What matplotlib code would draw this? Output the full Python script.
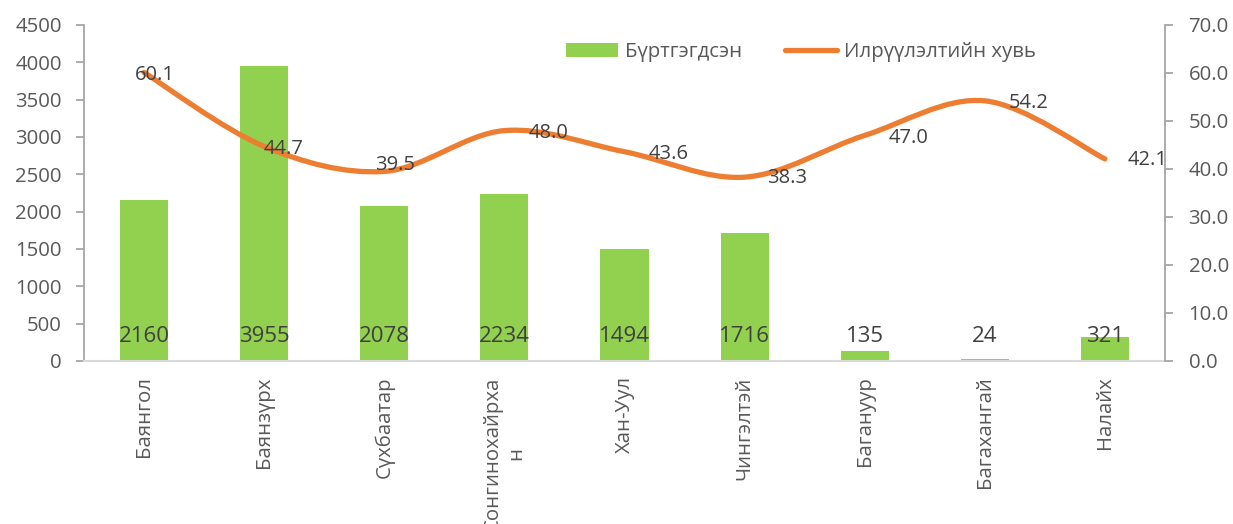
import matplotlib
matplotlib.use("Agg")
import matplotlib.pyplot as plt
from matplotlib import font_manager
from matplotlib.path import Path
from matplotlib.patches import PathPatch, Patch
from matplotlib.lines import Line2D
import numpy as np

# data
districts = ["Баянгол", "Баянзүрх", "Сүхбаатар", "Сонгинохайрха\nн", "Хан-Уул",
             "Чингэлтэй", "Багануур", "Багахангай", "Налайх"]
registered = [2160, 3955, 2078, 2234, 1494, 1716, 135, 24, 321]
detect_rate = [60.1, 44.7, 39.5, 48.0, 43.6, 38.3, 47.0, 54.2, 42.1]

# label nudges (pixels, right/up) for the rate labels
rate_offsets = [(11, -2), (19, -3), (11, 6), (44, -2), (44, -2),
                (43, -1), (44, -3), (44, -2), (43, -1)]

GREEN = "#92D050"
ORANGE = "#ED7D31"
TICK_C = "#595959"
LABEL_C = "#404040"
FS = 14.7

installed = {f.name for f in font_manager.fontManager.ttflist}
narrow = "Liberation Sans Narrow" if "Liberation Sans Narrow" in installed else "Open Sans"
plt.rcParams['font.family'] = ['Open Sans', 'DejaVu Sans']

fig = plt.figure(figsize=(12.33, 5.24), dpi=100)
ax = fig.add_axes([84 / 1233, 1 - 361 / 524, (1165 - 84) / 1233, (361 - 25) / 524])
ax2 = ax.twinx()

x = np.arange(len(districts))
ax.bar(x, registered, width=0.4, color=GREEN, zorder=2)
ax.set_xlim(-0.5, len(districts) - 0.5)
ax.set_ylim(0, 4500)
ax.set_yticks(np.arange(0, 4501, 500))
ax.set_xticks(x)
ax.set_xticklabels(districts, rotation=90, va='top', ha='center',
                   multialignment='center', fontsize=FS, color=TICK_C)
ax.tick_params(axis='x', length=0, pad=11)
ax.tick_params(axis='y', direction='out', length=6, width=1.3, color="#A6A6A6",
               labelsize=FS, labelcolor=TICK_C, pad=10)

for i, v in enumerate(registered):
    ax.annotate(str(v), (i, 0), xytext=(0, 25), textcoords='offset pixels',
                ha='center', va='center', fontsize=16, color=LABEL_C,
                family=[narrow, 'DejaVu Sans'], zorder=4)

# smoothed line through the points (Catmull-Rom style bezier)
pts = np.column_stack([x, detect_rate]).astype(float)
verts = [tuple(pts[0])]
codes = [Path.MOVETO]
n = len(pts)
for i in range(n - 1):
    p0 = pts[i - 1] if i > 0 else pts[i]
    p1 = pts[i]
    p2 = pts[i + 1]
    p3 = pts[i + 2] if i + 2 < n else pts[i + 1]
    c1 = p1 + (p2 - p0) / 6
    c2 = p2 - (p3 - p1) / 6
    verts += [tuple(c1), tuple(c2), tuple(p2)]
    codes += [Path.CURVE4] * 3
ax2.add_patch(PathPatch(Path(verts, codes), facecolor='none', edgecolor=ORANGE,
                        lw=3.8, capstyle='round', zorder=3))
ax2.set_ylim(0, 70)
ax2.set_yticks(np.arange(0, 71, 10))
ax2.set_yticklabels([f"{t:.1f}" for t in np.arange(0, 71, 10)])
ax2.tick_params(axis='y', direction='out', length=6, width=1.3, color="#A6A6A6",
                labelsize=FS, labelcolor=TICK_C, pad=11)

for i, v in enumerate(detect_rate):
    dx, dy = rate_offsets[i]
    ax2.annotate(f"{v:.1f}", (i, v), xytext=(dx, dy), textcoords='offset pixels',
                 ha='center', va='center', fontsize=14.5, color=LABEL_C, zorder=5)

for a in (ax, ax2):
    a.spines['top'].set_visible(False)
    a.spines['bottom'].set_color("#D9D9D9")
    a.spines['bottom'].set_linewidth(1.5)
    a.spines['left'].set_color("#A6A6A6")
    a.spines['left'].set_linewidth(1.3)
    a.spines['right'].set_color("#A6A6A6")
    a.spines['right'].set_linewidth(1.3)
ax.spines['right'].set_visible(False)
ax2.spines['left'].set_visible(False)
ax2.spines['bottom'].set_visible(False)

handles = [Patch(facecolor=GREEN, edgecolor='none'),
           Line2D([], [], color=ORANGE, lw=3.8, solid_capstyle='round')]
fig.legend(handles, ["Бүртгэгдсэн", "Илрүүлэлтийн хувь"], loc='center',
           bbox_to_anchor=(801 / 1233, 1 - 52 / 524), ncol=2, frameon=False,
           fontsize=FS, labelcolor=TICK_C, handlelength=2.55, handleheight=0.7,
           handletextpad=0.35, columnspacing=2.1)

fig.savefig("out.png", dpi=100)
